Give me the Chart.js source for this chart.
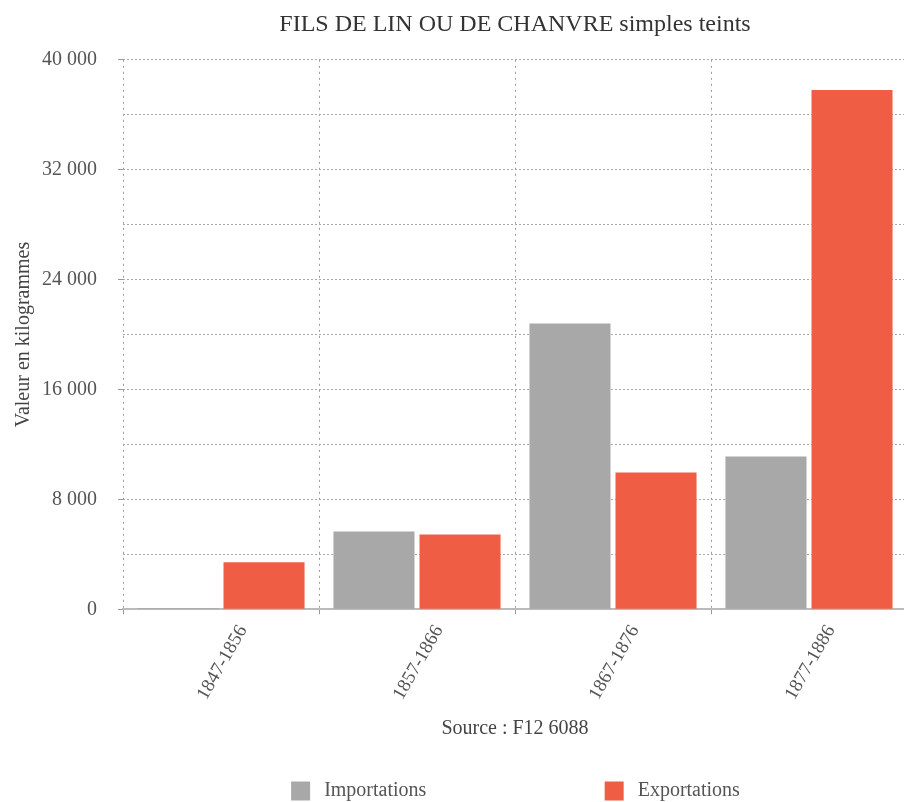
<!DOCTYPE html>
<html>
<head>
<meta charset="utf-8">
<script src="https://cdn.jsdelivr.net/npm/chart.js@4"></script>
<style>
html,body{margin:0;padding:0;background:#fff;overflow:hidden;}
#wrap{position:relative;width:904px;height:802px;overflow:hidden;}
</style>
</head>
<body>
<div id="wrap"><canvas id="c" width="907" height="802"></canvas></div>
<script>
const categories = ['1847-1856', '1857-1866', '1867-1876', '1877-1886'];
const importations = [100, 5670, 20800, 11130];
const exportations = [3420, 5450, 9960, 37800];
const seriesNames = ['Importations', 'Exportations'];
const chartTitle = 'FILS DE LIN OU DE CHANVRE simples teints';
const yTitle = 'Valeur en kilogrammes';
const xTitle = 'Source : F12 6088';

const FONT = "'Liberation Serif', 'Times New Roman', serif";
const fmt = v => String(v).replace(/\B(?=(\d{3})+(?!\d))/g, ' ');

// centre title and legend over the plot area, as in the reference
const blockShift = {
  id: 'blockShift',
  afterLayout(chart) {
    const l = chart.legend;
    if (l) { l.left += 57; l.right += 57; }
    const t = chart.titleBlock;
    if (t) { const a = chart.chartArea; const w = t.right - t.left; const c = (a.left + a.right) / 2; t.left = c - w / 2; t.right = c + w / 2; }
  }
};

new Chart(document.getElementById('c'), {
  type: 'bar',
  data: {
    labels: categories,
    datasets: [
      { label: seriesNames[0], data: importations, backgroundColor: '#a8a8a8' },
      { label: seriesNames[1], data: exportations, backgroundColor: '#ef5d45' }
    ]
  },
  options: {
    responsive: false,
    animation: false,
    devicePixelRatio: 1,
    categoryPercentage: 0.878,
    barPercentage: 0.942,
    layout: { padding: { left: 10, right: 0, top: 0, bottom: -9 } },
    plugins: {
      title: {
        display: true, text: chartTitle, color: '#333',
        font: { family: FONT, size: 24, weight: 'normal' },
        padding: { top: 10, bottom: 21 }
      },
      legend: {
        position: 'bottom',
        labels: {
          color: '#555', boxWidth: 19, boxHeight: 19, padding: 10,
          font: { family: FONT, size: 20 },
          generateLabels(chart) {
            const items = Chart.defaults.plugins.legend.labels.generateLabels(chart);
            items.forEach(it => { it.text = '\u2009' + it.text; });
            items[0].text = items[0].text + '\u2003'.repeat(8) + ' \u2006';
            return items;
          }
        }
      },
      tooltip: { enabled: false }
    },
    scales: {
      x: {
        afterFit(scale) { scale.paddingLeft = 0; scale.paddingRight = 0; },
        grid: { offset: true, color: '#999', tickLength: 5, lineWidth: 1 },
        border: { display: true, color: '#bbb', width: 2, dash: [2, 4] },
        ticks: {
          color: '#555', font: { family: FONT, size: 19 },
          minRotation: 60, maxRotation: 60, labelOffset: 22, padding: 7
        },
        title: {
          display: true, text: xTitle, color: '#444',
          font: { family: FONT, size: 20 }, padding: { top: 6, bottom: 30 }
        }
      },
      y: {
        min: 0, max: 40000,
        afterFit(scale) { scale.width = 113; scale.paddingTop = 0; scale.paddingBottom = 0; },
        grid: {
          color: '#aaa', tickLength: 5,
          tickColor: c => (c.tick && c.tick.value % 8000 === 0) ? '#999' : 'rgba(0,0,0,0)'
        },
        border: { display: false, dash: [2, 2] },
        ticks: {
          stepSize: 4000, color: '#555', font: { family: FONT, size: 20 }, padding: 21,
          autoSkip: false,
          callback: v => (v % 8000 === 0 ? fmt(v) : '')
        },
        title: {
          display: true, text: yTitle, color: '#444',
          font: { family: FONT, size: 20 }, padding: { top: 2, bottom: 6 }
        }
      }
    }
  },
  plugins: [blockShift]
});
</script>
</body>
</html>
